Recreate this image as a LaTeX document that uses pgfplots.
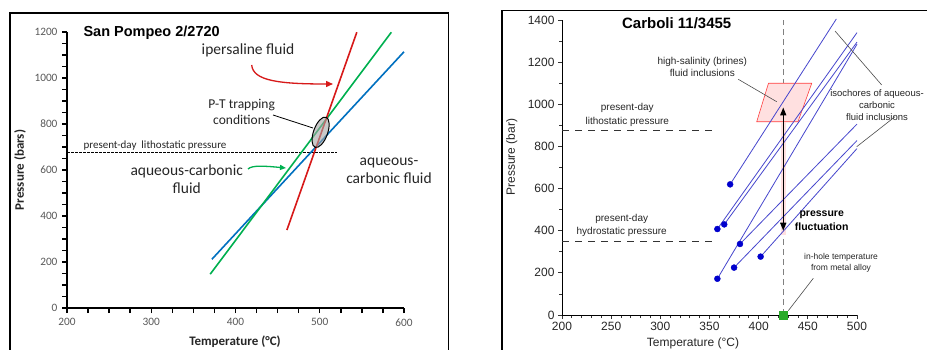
\documentclass[border=0pt]{standalone}
\usepackage{pgfplots}
\pgfplotsset{compat=1.18}
\usepackage{fontspec}
\setmainfont{Carlito}
\newfontfamily\arial{Liberation Sans}
\usetikzlibrary{arrows.meta,shapes.geometric}
\definecolor{exblue}{RGB}{0,112,192}
\definecolor{exgreen}{RGB}{0,176,80}
\definecolor{exred}{RGB}{215,25,25}
\definecolor{tickgray}{RGB}{89,89,89}
\definecolor{txt}{RGB}{38,38,38}
\definecolor{isoblue}{RGB}{70,70,205}
\definecolor{ptblue}{RGB}{0,0,205}
\definecolor{sqgreen}{RGB}{40,170,40}
\begin{document}
\begin{tikzpicture}
\path[use as bounding box] (0pt,0pt) rectangle (927pt,349pt);
\fill[white] (0pt,0pt) rectangle (927pt,349pt);
% panel frames
\draw[black, line width=1.6pt] (10pt,-10pt) -- (10pt,335.7pt) -- (448.3pt,335.7pt) -- (448.3pt,-10pt);
\draw[black, line width=1.6pt] (501.7pt,-10pt) -- (501.7pt,338.3pt) -- (940pt,338.3pt);

% ---------------- left panel ----------------
\begin{axis}[
 at={(67pt,41pt)}, anchor=south west, scale only axis,
 width=337pt, height=276pt,
 xmin=200, xmax=600, ymin=0, ymax=1200,
 axis x line*=bottom, axis y line*=left,
 axis line style={black, line width=1.2pt},
 xtick={200,300,...,600}, ytick={0,200,...,1200},
 minor xtick={225,250,...,600}, minor ytick={50,100,...,1200},
 tick align=outside, major tick length=5pt, minor tick length=5pt,
 major tick style={draw=black, line width=1.4pt},
 minor tick style={draw=black, line width=1.4pt},
 ticklabel style={font=\fontsize{11.3}{11.3}\selectfont, text=tickgray},
 yticklabel style={xshift=-1pt},
 xticklabel style={yshift=-2pt},
 /pgf/number format/assume math mode=true,
 /pgf/number format/1000 sep={},
 clip=false,
]
\addplot[black, line width=0.6pt, dash pattern=on 2.5pt off 1.5pt] coordinates {(200,677) (520,677)};
\addplot[exblue, line width=1.6pt] coordinates {(372,212) (600,1114)};
\addplot[exgreen, line width=1.6pt] coordinates {(370,147) (585,1199)};
\addplot[exred, line width=1.6pt] coordinates {(461,339) (544,1199)};
\node[draw=black, line width=1pt, fill=gray!70, fill opacity=0.6, draw opacity=1, ellipse, minimum width=14pt, minimum height=32pt, inner sep=0pt, rotate=-20] at (axis cs:501,764) {};
\end{axis}
% left annotations
\node[anchor=west, font=\arial\bfseries\fontsize{14.5}{14.5}\selectfont] at (80pt,316.3pt) {San Pompeo 2/2720};
\node[font=\fontsize{15.5}{15.5}\selectfont, text=txt] at (248pt,299pt) {ipersaline fluid};
\draw[exred, line width=1.3pt, -{Triangle[length=7pt,width=6pt]}] (251.7pt,284pt) .. controls (253pt,268pt) and (280pt,265pt) .. (333pt,265pt);
\node[font=\fontsize{13.5}{16.6}\selectfont, text=txt, align=center] at (241.7pt,237pt) {P-T trapping\\conditions};
\draw[black, line width=0.8pt] (273pt,234pt) -- (313pt,221pt);
\node[font=\fontsize{15.5}{18.7}\selectfont, text=txt, align=center] at (186.7pt,169.7pt) {aqueous-carbonic\\fluid};
\draw[exgreen, line width=1.3pt, -{Triangle[length=6pt,width=5pt]}] (248pt,180pt) .. controls (252pt,184pt) and (265pt,183pt) .. (286pt,181pt);
\node[font=\fontsize{15.5}{18.3}\selectfont, text=txt, align=center] at (389pt,178pt) {aqueous-\\carbonic fluid};
\node[font=\fontsize{11}{11}\selectfont, text=txt] at (155pt,203.5pt) {present-day\ \ lithostatic pressure};
\node[rotate=90, font=\bfseries\fontsize{13}{13}\selectfont, text=txt] at (20pt,179pt) {Pressure (bars)};
\node[font=\bfseries\fontsize{13}{13}\selectfont, text=txt] at (235pt,7.3pt) {Temperature (°C)};

% ---------------- right panel ----------------
\begin{axis}[
 at={(562pt,34pt)}, anchor=south west, scale only axis,
 width=295pt, height=295pt,
 xmin=200, xmax=500, ymin=0, ymax=1400,
 axis x line*=bottom, axis y line*=left,
 axis line style={black, line width=0.9pt},
 xtick={200,250,...,500}, ytick={0,200,...,1400},
 minor xtick={210,220,...,500}, minor ytick={100,300,...,1300},
 tick align=outside, major tick length=4pt, minor tick length=3pt,
 major tick style={draw=black!80, line width=0.9pt},
 minor tick style={draw=black!80, line width=0.8pt},
 ticklabel style={font=\arial\fontsize{12}{12}\selectfont, text=black!85},
 /pgf/number format/assume math mode=true,
 /pgf/number format/1000 sep={},
 clip=false,
]
\addplot[gray, line width=0.7pt, dash pattern=on 6pt off 4pt] coordinates {(425,0) (425,1400)};
\addplot[black!80, line width=0.8pt, dash pattern=on 7pt off 6pt] coordinates {(200,875) (357,875)};
\addplot[black!80, line width=0.8pt, dash pattern=on 7pt off 6pt] coordinates {(200,350) (357,350)};
\addplot[draw=red!75, fill=red!12, line width=0.6pt] coordinates {(410,1100) (454,1100) (440,917) (398,917)} -- cycle;
\addplot[draw=none, fill=red!12] coordinates {(423,380) (428,380) (428,917) (423,917)} -- cycle;
% isochores
\addplot[isoblue, line width=0.8pt] coordinates {(371,620) (479,1405)};
\addplot[isoblue, line width=0.8pt] coordinates {(358,408) (500,1340)};
\addplot[isoblue, line width=0.8pt] coordinates {(365,430) (500,1295)};
\addplot[isoblue, line width=0.8pt] coordinates {(358,172) (500,1285)};
\addplot[isoblue, line width=0.8pt] coordinates {(381,337) (500,906)};
\addplot[isoblue, line width=0.8pt] coordinates {(375,225) (500,828)};
\addplot[isoblue, line width=0.8pt] coordinates {(402,277) (500,790)};
\addplot[only marks, mark=*, mark size=3pt, ptblue] coordinates {(371,620) (358,408) (365,430) (381,337) (402,277) (375,225) (358,172)};
\draw[black, line width=1.5pt, {Triangle[length=8pt,width=6pt]}-{Triangle[length=8pt,width=6pt]}] (axis cs:425,400) -- (axis cs:425,985);
\addplot[only marks, mark=square*, mark size=4pt, sqgreen] coordinates {(425,0)};
\end{axis}
% right annotations
\node[font=\arial\bfseries\fontsize{15}{15}\selectfont] at (676.7pt,325.7pt) {Carboli 11/3455};
\node[font=\arial\fontsize{10}{12.3}\selectfont, text=txt, align=center] at (702.3pt,282pt) {high-salinity (brines)\\fluid inclusions};
\draw[black!70, line width=0.6pt] (738.3pt,269.7pt) -- (776.7pt,247.3pt);
\node[font=\arial\fontsize{10}{13.4}\selectfont, text=txt, align=center] at (627.3pt,234pt) {present-day\\lithostatic pressure};
\node[font=\arial\fontsize{10}{13}\selectfont, text=txt, align=center] at (621.7pt,123.2pt) {present-day\\hydrostatic pressure};
\node[font=\arial\bfseries\fontsize{10.5}{14}\selectfont, text=black, align=center] at (821.7pt,128.3pt) {pressure\\fluctuation};
\node[font=\arial\fontsize{8.5}{11.4}\selectfont, text=txt, align=center] at (841pt,86pt) {in-hole temperature\\from metal alloy};
\draw[black!70, line width=0.6pt] (813.3pt,70.7pt) -- (788.3pt,38.3pt);
\node[font=\arial\fontsize{9.5}{12}\selectfont, text=txt, align=center] at (877pt,243.7pt) {isochores of aqueous-\\carbonic\\fluid inclusions};
\draw[black!70, line width=0.6pt] (835pt,318pt) -- (881.7pt,264pt);
\draw[black!70, line width=0.6pt] (895pt,232.3pt) -- (856.7pt,202.3pt);
\node[rotate=90, font=\arial\fontsize{12}{12}\selectfont, text=txt] at (511.7pt,192pt) {Pressure (bar)};
\node[font=\arial\fontsize{12}{12}\selectfont, text=txt] at (693pt,6pt) {Temperature (°C)};
\end{tikzpicture}
\end{document}
